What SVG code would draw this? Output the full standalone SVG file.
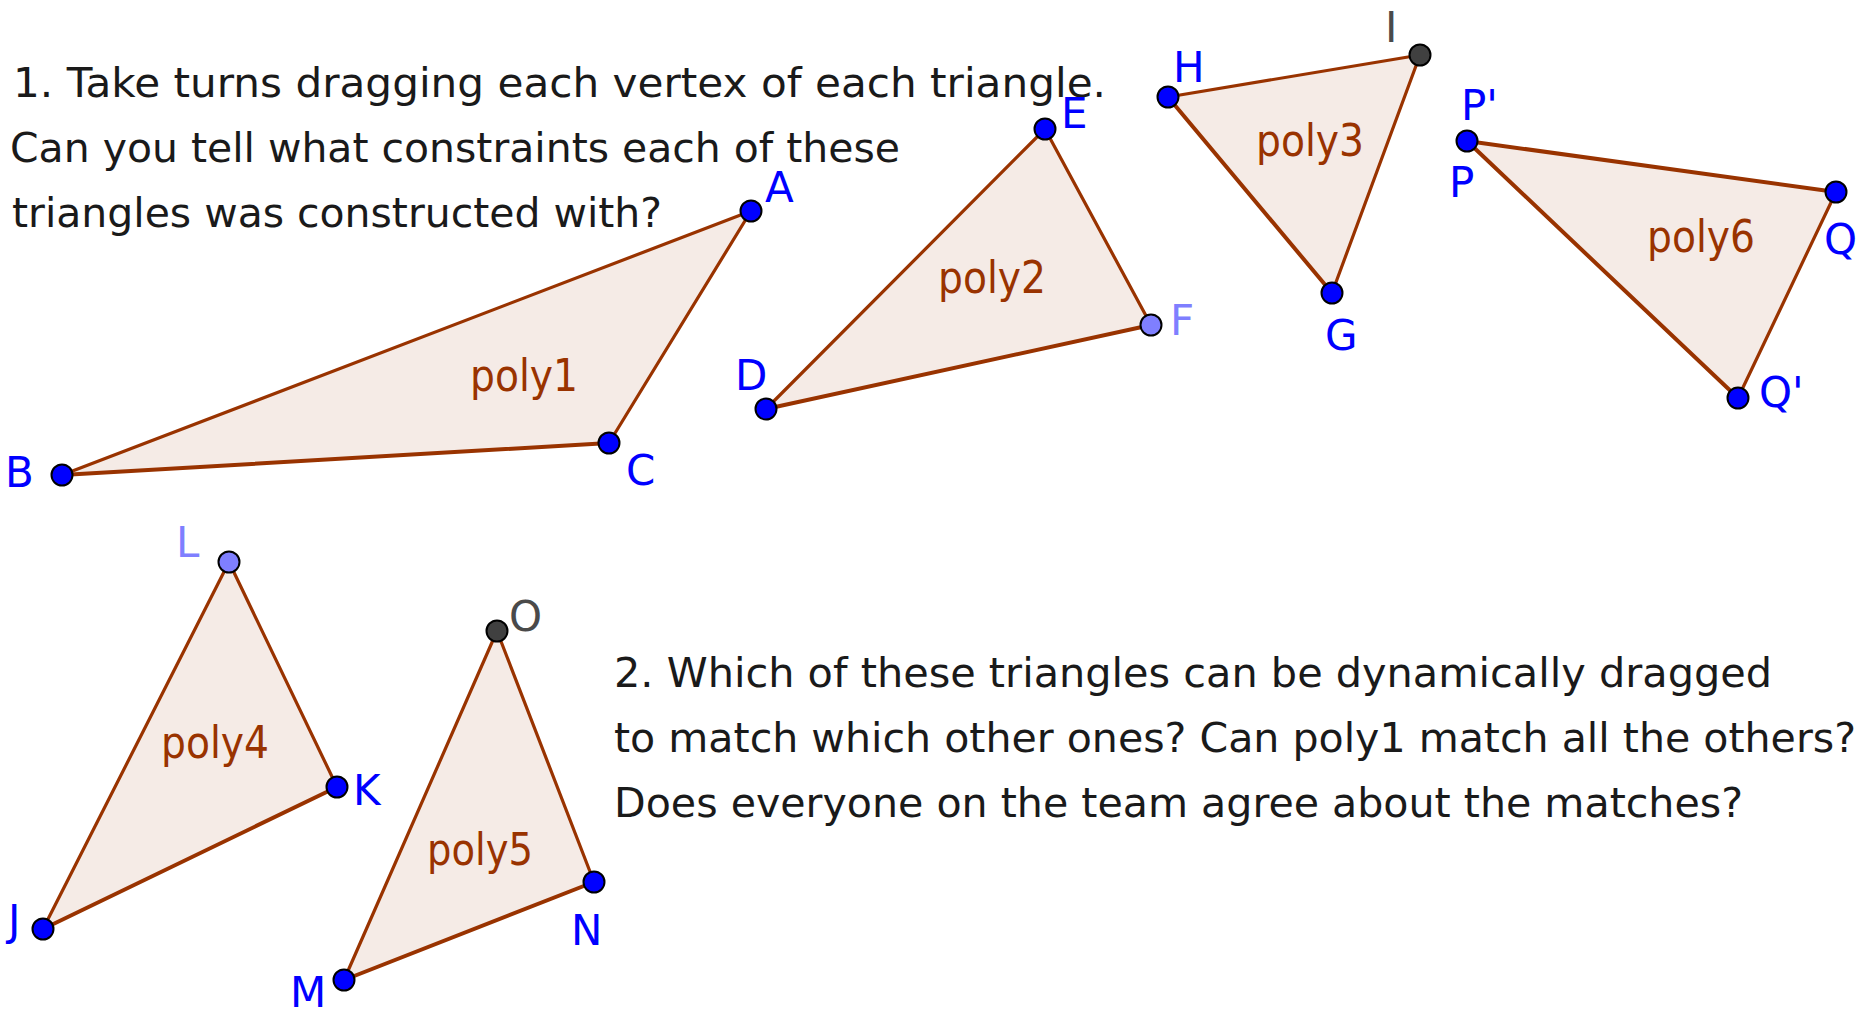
<svg xmlns="http://www.w3.org/2000/svg" width="1860" height="1011" viewBox="0 0 1860 1011">
<style>
.txt{font-family:"DejaVu Sans","Liberation Sans",sans-serif;font-size:41.5px;fill:#1a1a1a}
.fill{fill:#f5ebe6;stroke:none}
.e{stroke:#993300;stroke-width:3.2;fill:none;stroke-linecap:round}
.e2{stroke:#993300;stroke-width:4;fill:none;stroke-linecap:round}
.plab{font-family:"DejaVu Sans","Liberation Sans",sans-serif;font-size:44px;fill:#993300}
.vlab{font-family:"DejaVu Sans","Liberation Sans",sans-serif;font-size:42px;fill:#0000ff}
.vlab.light{fill:#7f7fff}
.vlab.dark{fill:#4a4a4a}
.pt{fill:#0000ff;stroke:#000;stroke-width:2}
.pt.light{fill:#7f7fff}
.pt.dark{fill:#404040}
</style>
<rect width="1860" height="1011" fill="#ffffff"/>

<g id="instructions1">
<text class="txt" x="13" y="97" textLength="1093" lengthAdjust="spacingAndGlyphs">1. Take turns dragging each vertex of each triangle.</text>
<text class="txt" x="10" y="162" textLength="890" lengthAdjust="spacingAndGlyphs">Can you tell what constraints each of these</text>
<text class="txt" x="12" y="227" textLength="650" lengthAdjust="spacingAndGlyphs">triangles was constructed with?</text>
</g>

<g id="instructions2">
<text class="txt" x="614" y="687" textLength="1158" lengthAdjust="spacingAndGlyphs">2. Which of these triangles can be dynamically dragged</text>
<text class="txt" x="614" y="752" textLength="1242" lengthAdjust="spacingAndGlyphs">to match which other ones? Can poly1 match all the others?</text>
<text class="txt" x="614" y="817" textLength="1129" lengthAdjust="spacingAndGlyphs">Does everyone on the team agree about the matches?</text>
</g>

<g id="poly1">
<polygon class="fill" points="751,211 62,475 609,443"/>
<line class="e" x1="62" y1="475" x2="751" y2="211"/>
<line class="e" x1="751" y1="211" x2="609" y2="443"/>
<line class="e2" x1="62" y1="475" x2="609" y2="443"/>
<text class="plab" x="470" y="391" textLength="108" lengthAdjust="spacingAndGlyphs">poly1</text>
<circle class="pt" cx="751" cy="211" r="10.5"/>
<circle class="pt" cx="62" cy="475" r="10.5"/>
<circle class="pt" cx="609" cy="443" r="10.5"/>
<text class="vlab" x="765" y="202">A</text>
<text class="vlab" x="5" y="487">B</text>
<text class="vlab" x="626" y="485">C</text>
</g>

<g id="poly2">
<polygon class="fill" points="766,409 1045,129 1151,325"/>
<line class="e" x1="766" y1="409" x2="1045" y2="129"/>
<line class="e" x1="1045" y1="129" x2="1151" y2="325"/>
<line class="e2" x1="766" y1="409" x2="1151" y2="325"/>
<text class="plab" x="938" y="293" textLength="108" lengthAdjust="spacingAndGlyphs">poly2</text>
<circle class="pt" cx="766" cy="409" r="10.5"/>
<circle class="pt" cx="1045" cy="129" r="10.5"/>
<circle class="pt light" cx="1151" cy="325" r="10.5"/>
<text class="vlab" x="735" y="390">D</text>
<text class="vlab" x="1061" y="128">E</text>
<text class="vlab light" x="1170" y="335">F</text>
</g>

<g id="poly3">
<polygon class="fill" points="1168,97 1420,55 1332,293"/>
<line class="e" x1="1168" y1="97" x2="1420" y2="55"/>
<line class="e" x1="1420" y1="55" x2="1332" y2="293"/>
<line class="e2" x1="1168" y1="97" x2="1332" y2="293"/>
<text class="plab" x="1256" y="156" textLength="108" lengthAdjust="spacingAndGlyphs">poly3</text>
<circle class="pt" cx="1168" cy="97" r="10.5"/>
<circle class="pt dark" cx="1420" cy="55" r="10.5"/>
<circle class="pt" cx="1332" cy="293" r="10.5"/>
<text class="vlab" x="1173" y="82">H</text>
<text class="vlab dark" x="1385" y="42">I</text>
<text class="vlab" x="1325" y="350">G</text>
</g>

<g id="poly6">
<polygon class="fill" points="1467,141 1836,192 1738,398"/>
<line class="e2" x1="1467" y1="141" x2="1836" y2="192"/>
<line class="e" x1="1836" y1="192" x2="1738" y2="398"/>
<line class="e2" x1="1467" y1="141" x2="1738" y2="398"/>
<text class="plab" x="1647" y="252" textLength="108" lengthAdjust="spacingAndGlyphs">poly6</text>
<circle class="pt" cx="1467" cy="141" r="10.5"/>
<circle class="pt" cx="1836" cy="192" r="10.5"/>
<circle class="pt" cx="1738" cy="398" r="10.5"/>
<text class="vlab" x="1461" y="120">P'</text>
<text class="vlab" x="1449" y="197">P</text>
<text class="vlab" x="1824" y="254">Q</text>
<text class="vlab" x="1759" y="407">Q'</text>
</g>

<g id="poly4">
<polygon class="fill" points="229,562 337,787 43,929"/>
<line class="e" x1="229" y1="562" x2="337" y2="787"/>
<line class="e" x1="229" y1="562" x2="43" y2="929"/>
<line class="e2" x1="43" y1="929" x2="337" y2="787"/>
<text class="plab" x="161" y="758" textLength="108" lengthAdjust="spacingAndGlyphs">poly4</text>
<circle class="pt light" cx="229" cy="562" r="10.5"/>
<circle class="pt" cx="337" cy="787" r="10.5"/>
<circle class="pt" cx="43" cy="929" r="10.5"/>
<text class="vlab light" x="176" y="557">L</text>
<text class="vlab" x="353" y="805">K</text>
<text class="vlab" x="8" y="935">J</text>
</g>

<g id="poly5">
<polygon class="fill" points="497,631 594,882 344,980"/>
<line class="e" x1="497" y1="631" x2="594" y2="882"/>
<line class="e" x1="497" y1="631" x2="344" y2="980"/>
<line class="e2" x1="344" y1="980" x2="594" y2="882"/>
<text class="plab" x="427" y="865" textLength="106" lengthAdjust="spacingAndGlyphs">poly5</text>
<circle class="pt dark" cx="497" cy="631" r="10.5"/>
<circle class="pt" cx="594" cy="882" r="10.5"/>
<circle class="pt" cx="344" cy="980" r="10.5"/>
<text class="vlab dark" x="509" y="631">O</text>
<text class="vlab" x="571" y="945">N</text>
<text class="vlab" x="290" y="1007">M</text>
</g>

<g id="connectors"/>
</svg>
